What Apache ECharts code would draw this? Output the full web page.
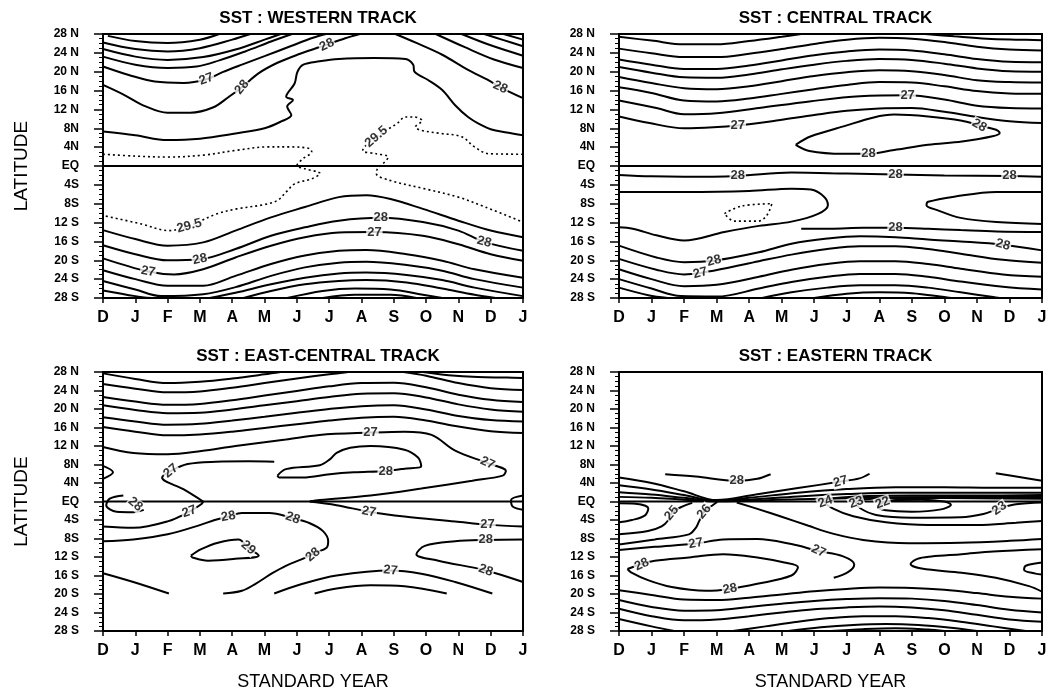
<!DOCTYPE html>
<html><head><meta charset="utf-8">
<script src="https://cdn.jsdelivr.net/npm/echarts@6/dist/echarts.min.js"></script>
<style>html,body{margin:0;padding:0;background:#fff}#c{width:1051px;height:692px}</style>
</head><body><div id="c"></div>
<script>
const months = ['D','J','F','M','A','M','J','J','A','S','O','N','D','J'];
const latTicks = ['28 S','24 S','20 S','16 S','12 S','8S','4S','EQ','4N','8N','12 N','16 N','20 N','24 N','28 N'];
const titles = ['SST : WESTERN TRACK','SST : CENTRAL TRACK','SST : EAST-CENTRAL TRACK','SST : EASTERN TRACK'];
const equator = [[0,0],[13,0]];

// ---------- WESTERN TRACK ----------
const westernSolid = [
 [[0.15,27.6],[1,26.5],[2,26.1],[3,26.8],[3.6,28]],
 [[0,26.2],[1,24.8],[2,24.3],[3,25],[4,26.8],[4.56,28]],
 [[0,24.8],[1,23.2],[2,22.5],[3.1,23.1],[4.1,24.7],[5,26.8],[5.5,28]],
 [[0,23.2],[1,21.5],[2,20.8],[2.9,21.1],[3.6,22.4],[4.4,24.3],[5.2,26.4],[5.85,28]],
 [[0,21.1],[0.8,19.3],[1.6,17.9],[2.5,17.6],[3.2,18.4],[3.7,19.9],[4.3,21.5],[5.0,23.3],[5.8,25.4],[6.5,27.2],[6.9,28]],
 [[0,17.2],[0.65,15.1],[1.3,12.7],[2.0,11.3],[2.7,11.3],[3.4,12.4],[3.9,14.7],[4.3,16.7],[4.8,19.6],[5.4,21.9],[6.1,23.8],[6.9,25.7],[7.5,27.1],[7.95,28]],
 [[0,7.3],[1,6.5],[2,5.5],[3,5.8],[4.1,6.9],[5,8.0],[5.5,9.4],[5.83,10.8],[5.7,12.6],[5.88,14],[5.67,14.7],[5.93,17.5],[6.02,20],[6.2,21.5],[6.7,22.2],[7.3,22.7],[8.4,22.9],[9.36,22.7],[9.6,21.5],[9.64,20],[10.05,18.3],[10.5,16.1],[10.9,12.9],[11.3,10.4],[11.7,8.7],[12,7.8],[12.5,7.1],[13,6.5]],
 [[9.05,28],[9.7,26.1],[10.5,23.6],[11.3,20.4],[11.9,18.3],[12.3,16.7],[13,14.4]],
 [[10.3,28],[11.2,25.2],[12.1,22.6],[13,20.8]],
 [[11.1,28],[12,25.6],[13,23.4]],
 [[11.8,28],[12.4,26.7],[13,25.4]],
 [[12.4,28],[13,26.8]],
 [[0,-13.6],[1,-15.5],[2,-16.9],[3.1,-16.2],[4.1,-13.7],[5.2,-10.9],[6.25,-8.7],[7.3,-6.6],[8.15,-6.2],[8.9,-7],[9.9,-9.1],[11,-11.6],[12,-13.7],[13,-15.1]],
 [[0,-16.8],[1,-18.7],[2,-20],[3,-19.8],[4.1,-17.6],[5.2,-14.8],[6.25,-13],[7.3,-11.6],[8.6,-11],[9.9,-11.9],[11,-13.7],[11.8,-16.1],[13,-18]],
 [[0,-19.6],[1.4,-22.4],[2.2,-23],[3.1,-21.9],[4.1,-19.4],[5.2,-16.9],[6.25,-15.1],[7.3,-14.1],[8.4,-14],[9.9,-14.8],[11,-16.6],[12,-18.7],[13,-20.1]],
 [[0,-22.1],[1,-24],[2,-25.4],[3.1,-25.4],[4.1,-23.3],[5.2,-20.8],[6.25,-19],[7.3,-18],[8.15,-17.8],[9.4,-18.7],[10.5,-20.1],[11.5,-21.9],[13,-23.7]],
 [[0,-24.4],[1,-26.2],[1.8,-27.6],[3.1,-27.2],[4.1,-25.7],[5.2,-23.3],[6.25,-21.5],[7.3,-20.5],[8.15,-20.3],[9.4,-21],[10.5,-22.2],[11.5,-24],[13,-25.8]],
 [[0,-26.4],[1,-27.6],[1.5,-28]],
 [[3.3,-28],[4.1,-26.9],[5.2,-25.1],[6.25,-23.7],[7.3,-22.8],[8.15,-22.6],[9.4,-23.1],[10.5,-24.2],[11.5,-25.8],[13,-27.6]],
 [[4.35,-28],[5.2,-26.5],[6.25,-25.1],[7.3,-24.4],[8.15,-24.2],[9.4,-24.7],[10.5,-26],[11.5,-27.3],[12.15,-28]],
 [[5.7,-28],[6.8,-26.5],[7.8,-26],[8.9,-26.2],[9.9,-27.3],[10.5,-28]],
 [[6.8,-28],[7.8,-27.3],[8.9,-27.3],[9.7,-28]]
];
const westernDashed = [
 [[0,2.5],[1,2.1],[2,1.9],[3.1,2.3],[4.1,3.3],[5.1,4.05],[5.8,4.05],[6.4,3.7],[6.46,3.0],[6.2,1.6],[6.0,0.1],[6.25,-0.6],[6.72,-1.6],[6.46,-2.7],[5.93,-3.8],[5.67,-5.5],[5.4,-7.3],[4.98,-8.2],[4.14,-9.1],[3.5,-10.2],[2.67,-12.7],[2.03,-13.7],[1.19,-12.3],[0,-10.5]],
 [[13,2.5],[11.94,2.6],[11.5,4.05],[11.1,6.2],[10.46,6.9],[9.83,7.6],[9.67,8.3],[9.88,9.6],[9.62,10.4],[9.36,10.4],[9.1,9],[8.46,6.2],[8.04,3.3],[8.46,2.6],[8.83,1.9],[8.67,0.5],[8.5,-0.5],[8.46,-1.6],[8.88,-3.05],[9.94,-4.8],[11,-6.6],[11.83,-8.7],[13,-11.9]]
];
const westernLabels = [
 [3.2,18.4,'27',20],[4.3,16.7,'28',50],[6.93,25.7,'28',25],[12.3,16.7,'28',-25],
 [8.46,6.2,'29.5',40],[2.67,-12.7,'29.5',15],[8.6,-11,'28',0],[8.4,-14,'27',0],
 [11.8,-16.1,'28',-15],[3.0,-19.8,'28',12],[1.4,-22.4,'27',-10]
];

// ---------- CENTRAL TRACK ----------
const centralSolid = [
 [[0,27.4],[1,26.6],[2,25.8],[3,25.8],[4,26.5],[5,27.4],[5.6,28]],
 [[9.4,28],[10.3,27.5],[11.3,27.0],[12.2,26.8],[13,26.7]],
 [[0,24.9],[1,23.9],[2,23.1],[3,23.1],[4,23.8],[5,24.8],[6,25.9],[7,26.8],[8,27.2],[9,27.0],[10,26.3],[11,25.3],[12,24.7],[13,24.5]],
 [[0,22.6],[1,21.5],[2,20.6],[3,20.6],[4,21.3],[5,22.4],[6,23.5],[7,24.3],[8,24.7],[9,24.5],[10,23.7],[11,22.7],[12,22.1],[13,22.0]],
 [[0,21.0],[1,19.8],[2,18.8],[3,18.7],[4,19.4],[5,20.5],[6,21.5],[7,22.3],[8,22.7],[9,22.5],[10,21.7],[11,20.7],[12,20.1],[13,20.0]],
 [[0,18.9],[1,17.6],[2,16.5],[3,16.3],[4,16.9],[5,18],[6,19.1],[7,19.9],[8,20.3],[9,20.1],[10,19.3],[11,18.2],[12,17.8],[13,17.7]],
 [[0,16.7],[1,15.5],[2,13.9],[3,13.7],[4,14.3],[5,15.3],[6,16.3],[7,17.2],[8,17.8],[9,17.7],[10,16.9],[11,15.9],[12,15.4],[13,15.3]],
 [[0,13.9],[1.15,12.3],[2,11.0],[3,11.2],[4.3,12.3],[5.85,13.7],[7.4,14.8],[8.9,15.0],[10,14.1],[11,12.8],[12,12.3],[13,12.2]],
 [[0,10.5],[0.94,9.1],[2,8.0],[2.9,8.2],[3.65,8.6],[4.9,9.7],[6,10.8],[7,11.7],[8,12.2],[9,12.3],[10,11.5],[11,10.4],[12,9.5],[13,9.1]],
 [[5.43,4.5],[5.9,6.3],[6.9,8.4],[7.83,10.3],[8.46,10.9],[9.5,10.5],[10.54,9.6],[11.07,8.6],[11.59,7.7],[11.7,7.0],[11.48,6.3],[10.54,5.2],[9.5,4.5],[8.46,3.4],[7.67,2.6],[6.89,2.6],[5.85,3.2],[5.43,4.5]],
 [[0,-1.9],[1,-2.2],[2,-2.3],[3.65,-2.1],[5.3,-1.4],[7,-1.6],[8.5,-1.8],[10,-2.0],[12,-2.1],[13,-2.3]],
 [[0,-5.5],[2,-5.5],[4,-5.3],[5.3,-4.8],[5.9,-5.0],[6.3,-6.5],[6.42,-8.3],[6.1,-10.2],[5.3,-11.8],[4.3,-12.7],[3.24,-14.0],[2.0,-15.8],[1.15,-14.7],[0.42,-13.3],[0,-13]],
 [[5.6,-13.3],[6.5,-13.3],[7.5,-13.1],[8.5,-13.1],[9.5,-13.3],[10.5,-13.6],[11.6,-13.9],[13,-14]],
 [[13,-5.5],[11.6,-5.5],[10.3,-6.5],[9.5,-7.6],[9.45,-8.3],[9.8,-9.4],[10.5,-11.0],[11.6,-11.9],[13,-12.3]],
 [[0,-16.9],[1.15,-19.4],[2,-20.4],[2.9,-20.1],[4.3,-18.3],[5.3,-16.5],[6.4,-15.4],[7.4,-14.9],[8.5,-15.1],[9.5,-15.6],[10.5,-16],[11.8,-16.7],[13,-17.9]],
 [[0,-19.7],[1.15,-22],[2,-23],[2.5,-22.7],[3.2,-21.8],[4.3,-20.2],[5.3,-18.8],[6.4,-17.6],[7.4,-17],[8.5,-17],[9.5,-17.6],[10.5,-18.6],[11.8,-19.9],[13,-20.5]],
 [[0,-21.9],[1,-24],[2,-25.5],[3,-25.2],[4.3,-23.5],[5.3,-22],[6.4,-20.8],[7.4,-20.2],[8.5,-20.2],[9.5,-20.8],[10.5,-21.8],[11.8,-23],[13,-23.5]],
 [[0,-24],[1,-26],[1.9,-27.6],[3,-27.7],[4.3,-26],[5.3,-24.6],[6.4,-23.5],[7.4,-22.9],[8.5,-22.9],[9.5,-23.5],[10.5,-24.5],[11.8,-25.6],[13,-26.2]],
 [[0,-25.8],[0.9,-27.4],[1.5,-28]],
 [[4.4,-28],[5.3,-26.8],[6.4,-25.8],[7.4,-25.3],[8.5,-25.3],[9.5,-25.8],[10.5,-26.8],[11.5,-27.8],[11.7,-28]],
 [[6.0,-28],[7.0,-27.1],[8.0,-26.8],[9.0,-27],[10,-27.8],[10.2,-28]]
];
const centralDashed = [
 [[3.24,-10.1],[3.76,-8.5],[4.7,-8.0],[4.54,-10.5],[4.28,-11.7],[3.55,-11.7],[3.24,-10.1]]
];
const centralLabels = [
 [3.65,8.6,'27',0],[8.87,15,'27',0],[11.07,8.6,'28',-30],[7.67,2.6,'28',0],
 [3.65,-2.1,'28',0],[8.5,-1.8,'28',0],[12,-2.1,'28',0],[8.5,-13.1,'28',0],
 [11.8,-16.7,'28',-15],[2.92,-20.1,'28',15],[2.5,-22.7,'27',15]
];

// ---------- EAST-CENTRAL TRACK ----------
const eastCentralSolid = [
 [[0,27.7],[1,26.5],[2,25.6],[3,25.9],[4,26.6],[5,27.5],[5.5,28]],
 [[9.9,28],[10.7,27.3],[11.6,26.9],[12.5,26.8],[13,26.7]],
 [[0,25.4],[1,24.4],[2,23.6],[3,23.8],[4,24.6],[5,25.6],[6,26.6],[7,27.5],[7.6,28]],
 [[9.3,28],[10,27.2],[11,25.6],[12,24.5],[13,24.1]],
 [[0,22.6],[1,21.6],[2,20.9],[3,21.1],[4,21.9],[5,22.9],[6,23.9],[7,24.9],[8,25.6],[9,25.7],[10,24.7],[11,23.1],[12,22],[13,21.5]],
 [[0,20.8],[1,19.8],[2,19.1],[3,19.2],[4,19.9],[5,20.8],[6,21.7],[7,22.6],[8,23.3],[9,23.4],[10,22.5],[11,21],[12,19.9],[13,19.4]],
 [[0,18.2],[1,17.3],[2,16.6],[3,16.8],[4,17.5],[5,18.3],[6,19.2],[7,20],[8,20.6],[9,20.8],[10,19.9],[11,18.5],[12,17.6],[13,17.3]],
 [[0,16.1],[1,15.1],[2,14.3],[3,14.5],[4,15.1],[5,15.9],[6,16.7],[7,17.5],[8,18.1],[9,18.3],[10,17.5],[11,16.2],[12,15.2],[13,14.8]],
 [[0,11.8],[0.94,10.5],[2,10.2],[3.04,10.9],[4.1,12],[5.66,13.4],[6.7,14.4],[8.28,14.9],[9.33,15.1],[10.17,14.4],[10.9,11.0],[11.9,8.3],[12.47,6.6],[12.37,5.6],[11.43,4.5],[9.85,2.8],[8.28,1.3],[6.71,0.3],[6.4,0]],
 [[3.1,0],[2.5,2.6],[1.83,5.2],[2.1,6.6],[2.62,8.1],[3.5,8.6],[4.5,8.7],[5.3,8.6]],
 [[5.4,5.6],[5.66,7],[6.71,7.85],[7.02,9.1],[7.23,10.5],[7.65,11.6],[8.28,12],[9.33,11.2],[9.75,9.5],[9.85,7.7],[9.33,7.1],[8.75,6.6],[7.76,6.3],[7.02,5.9],[6.18,5.2],[5.45,5.2],[5.4,5.6]],
 [[0,7.7],[0.31,6.3],[0,4.9]],
 [[0.63,1.3],[0.21,0.6],[0.1,-0.8],[0.42,-2.2],[0.94,-2.3],[1.26,-1.8]],
 [[13,1.3],[12.63,0.3],[12.68,-1.1],[13,-1.8]],
 [[0,-5.4],[0.94,-5.7],[2,-4.3],[2.67,-2.2],[3.04,-0.6],[3.1,0]],
 [[6.4,0],[7.23,-0.8],[8.23,-2.2],[9.33,-3.25],[10.9,-4.3],[11.9,-5],[13,-5.4]],
 [[0,-8.6],[0.94,-8.2],[2,-7.1],[3.04,-5],[3.46,-4],[3.88,-3.25],[4.3,-2.5],[5.14,-2.5],[5.87,-3.6],[6.4,-4.7],[6.81,-6.4],[6.97,-8.6],[6.92,-10],[6.6,-11],[6.18,-12.4],[5.66,-13.9],[5.24,-15.5],[4.72,-17.8],[4.3,-19.3],[3.72,-19.9]],
 [[0,-15.5],[0.94,-17.4],[2.04,-19.9]],
 [[5.3,-19.9],[6.18,-17.8],[7.23,-16],[8.9,-14.9],[9.85,-15.6],[10.9,-17.4],[12.05,-19.9]],
 [[6.55,-19.9],[7.23,-18.8],[8.28,-18.1],[9.33,-18.3],[10.64,-19.9]],
 [[13,-8.2],[11.85,-8.3],[10.9,-8.6],[9.96,-9.6],[9.7,-11.4],[10.38,-12.8],[11.85,-14.9],[13,-17.4]],
 [[2.72,-11.7],[3.04,-10.3],[3.56,-8.9],[4.19,-8.2],[4.5,-10],[4.82,-11.7],[4.09,-12.4],[3.25,-12.8],[2.77,-12.1],[2.72,-11.7]]
];
const eastCentralLabels = [
 [8.28,14.9,'27',0],[11.9,8.3,'27',-25],[2.1,6.6,'27',40],[8.75,6.6,'28',0],
 [1.0,-0.6,'28',-40],[2.67,-2.2,'27',20],[8.23,-2.2,'27',-10],[11.9,-5,'27',0],
 [3.88,-3.25,'28',10],[5.87,-3.6,'28',-20],[6.5,-11.5,'28',40],[4.5,-10,'29',-40],
 [11.85,-8.3,'28',0],[11.85,-14.9,'28',-20],[8.9,-14.9,'27',-5]
];

// ---------- EASTERN TRACK ----------
const easternSolid = [
 [[0,5.2],[1,4.0],[2,2.2],[3.0,0.3],[4.2,1.5],[5.5,2.9],[6.81,4.3],[7.39,5.0],[7.7,6.0]],
 [[11.58,6.1],[12.3,5.3],[13,4.5]],
 [[1.42,5.9],[2.36,5.4],[3.62,4.5],[4.25,4.9],[4.66,5.9]],
 [[0,3.5],[1,2.6],[2,1.4],[3.0,0.15],[4,0.8],[5.5,1.9],[7,2.7],[8.5,3.1],[10,3.1],[11.5,3.0],[13,3.0]],
 [[0,2.0],[1,1.5],[2,0.8],[3,0.1],[4,0.4],[5.5,1.1],[7,1.6],[8.5,1.9],[10,1.9],[11.5,1.9],[13,1.9]],
 [[0,1.0],[1,0.8],[2,0.4],[3,0.05],[5.5,0.5],[8.5,0.9],[11.5,1.0],[13,1.0]],
 [[0,-0.4],[0.5,-0.5],[0.9,-1.5],[0.8,-3.0],[0.4,-4.0],[0,-4.5]],
 [[0,-7.1],[0.89,-6.4],[1.31,-5.4],[1.52,-4],[1.62,-2.5],[1.94,-1.1],[2.25,-0.3]],
 [[0,-9.3],[1.1,-8.2],[2.15,-7.1],[2.36,-5.7],[2.46,-4.3],[2.62,-2.2],[2.88,-0.8],[3.02,-0.1]],
 [[3.62,-0.2],[4.3,-1.7],[5,-3.3],[5.8,-5.2],[6.6,-7],[7.5,-8.3],[8.9,-9.0],[10.5,-8.9],[12,-8.5],[13,-8.1]],
 [[13,1.4],[11,1.3],[9,1.3],[7.3,1.1],[6.5,0.6],[6.34,-0.1],[6.6,-1.6],[7.2,-3.2],[8.2,-4.5],[9.5,-5.1],[11,-5.1],[12.2,-4.6],[13,-4.2]],
 [[13,0.6],[11,0.7],[9,0.8],[7.6,0.5],[7.29,-0.2],[7.4,-1.4],[7.9,-2.9],[9,-3.5],[10.5,-3.4],[11.2,-2.7],[11.69,-1.5],[12.2,-0.6],[13,-0.2]],
 [[8.1,-0.3],[8.5,0.3],[9.3,0.4],[10.0,0.0],[10.2,-0.7],[9.9,-1.7],[9,-2.2],[8.2,-1.9],[7.95,-1.2],[8.1,-0.3]],
 [[0,-10.5],[1.1,-9.8],[2.36,-9.1],[3.2,-8.2],[4.25,-8.1],[5.3,-9.2],[6.13,-10.7],[6.87,-11.8],[7.23,-13.6],[7.05,-15.2],[6.6,-16.5]],
 [[0.26,-14.6],[0.68,-13.5],[1.1,-12.8],[2.15,-12.1],[3.2,-11.4],[4.25,-12.1],[5.08,-13.2],[5.5,-14.2],[5.3,-16],[4.25,-17.8],[3.41,-18.9],[2.67,-19.3],[1.62,-18.5],[0.89,-17],[0.37,-15.3],[0.26,-14.6]],
 [[13,-10.3],[11.5,-10.8],[10.53,-11.4],[9.6,-11.9],[9.17,-12.4],[8.96,-13.5],[9.3,-14.5],[10.53,-15.4],[11.58,-16.5],[12.6,-18.3],[13,-19.5]],
 [[13,-13.2],[12.5,-13.9],[12.45,-14.8],[12.8,-15.6],[13,-15.8]],
 [[0,-19.2],[1,-20.2],[2,-21.2],[3,-21.3],[4,-20.8],[5,-20.1],[6,-19.4],[7,-18.9],[8,-18.6],[9,-18.7],[10,-19.1],[11,-19.8],[12,-20.6],[13,-21]],
 [[0,-21.3],[1,-22.8],[2,-23.6],[3,-23.5],[4,-22.8],[5,-22.1],[6,-21.5],[7,-21.1],[8,-20.9],[9,-21],[10,-21.5],[11,-22.4],[12,-23.4],[13,-24]],
 [[0,-23.2],[1,-24.8],[2,-25.7],[3,-25.5],[4,-24.8],[5,-24],[6,-23.3],[7,-22.9],[8,-22.7],[9,-22.9],[10,-23.5],[11,-24.5],[12,-25.5],[13,-26]],
 [[0,-25.4],[1,-27],[1.7,-28]],
 [[3.5,-28],[4.5,-27],[5.5,-26],[6.5,-25.2],[7.5,-24.8],[8.5,-24.8],[9.5,-25.2],[10.5,-26],[11.5,-27],[12.5,-28]],
 [[5.2,-28],[6.2,-27.2],[7.2,-26.7],[8.2,-26.5],[9.2,-26.7],[10.2,-27.3],[11,-28]],
 [[6.5,-28],[7.5,-27.6],[8.5,-27.4],[9.5,-27.7],[10,-28]]
];
const easternLabels = [
 [3.62,4.5,'28',0],[6.81,4.3,'27',15],[6.34,-0.1,'24',20],[7.29,-0.2,'23',20],[8.1,-0.3,'22',20],
 [11.69,-1.5,'23',35],[1.62,-2.5,'25',50],[2.62,-2.2,'26',50],[2.36,-9.1,'27',10],
 [6.13,-10.7,'27',-25],[0.7,-13.6,'28',25],[3.41,-18.9,'28',10]
];

const panelSolid = [westernSolid, centralSolid, eastCentralSolid, easternSolid];
const panelDashed = [westernDashed, centralDashed, [], []];
const panelLabels = [westernLabels, centralLabels, eastCentralLabels, easternLabels];

// ---------- layout ----------
const FONT = '"Liberation Sans", Arial, Helvetica, sans-serif';
const grids = [
 {left:103, top:34, width:420, height:264},
 {left:619, top:34, width:423, height:264},
 {left:103, top:372, width:420, height:264},
 {left:619, top:372, width:423, height:264}
];
const option = {
 animation:false,
 backgroundColor:'#fff',
 title: titles.map((t,i)=>({text:t, left: grids[i].left + grids[i].width/2, top: grids[i].top - 29, textAlign:'center',
   textStyle:{fontFamily:FONT, fontSize:17, fontWeight:'bold', color:'#000'}})),
 grid: grids.map(g=>Object.assign({show:true, borderColor:'#000', borderWidth:2, containLabel:false}, g)),
 xAxis: grids.map((g,i)=>({type:'value', gridIndex:i, min:0, max:13, interval:1,
   axisLine:{onZero:false, lineStyle:{color:'#000', width:2}},
   axisTick:{length:5, lineStyle:{color:'#000', width:1.5}},
   axisLabel:{formatter:v=>months[v] ?? '', color:'#000', fontFamily:FONT, fontSize:16, fontWeight:'bold', margin:12},
   splitLine:{show:false},
   name: i>=2 ? 'STANDARD YEAR' : '', nameLocation:'middle', nameGap:42,
   nameTextStyle:{fontFamily:FONT, fontSize:18, color:'#000'}})),
 yAxis: grids.map((g,i)=>({type:'value', gridIndex:i, min:-28, max:28, interval:4,
   axisLine:{onZero:false, lineStyle:{color:'#000', width:2}},
   axisTick:{length:9, lineStyle:{color:'#000', width:1.5}},
   minorTick:{show:true, splitNumber:4, length:4, lineStyle:{color:'#000', width:1}},
   axisLabel:{formatter:v=>latTicks[Math.round((v+28)/4)] ?? '', color:'#000', fontFamily:FONT, fontSize:12, fontWeight:'bold', margin:24},
   splitLine:{show:false},
   name: (i%2===0) ? 'LATITUDE' : '', nameLocation:'middle', nameGap:72, nameRotate:90,
   nameTextStyle:{fontFamily:FONT, fontSize:19, color:'#000'}})),
 series: []
};
for (let i=0;i<4;i++){
  option.series.push({type:'line', xAxisIndex:i, yAxisIndex:i, data:equator, symbol:'none', silent:true,
     lineStyle:{color:'#000', width:1.8}, z:3});
  panelSolid[i].forEach(pts=>option.series.push({type:'line', xAxisIndex:i, yAxisIndex:i, data:pts, smooth:0.35,
     symbol:'none', silent:true, clip:true, lineStyle:{color:'#000', width:2}, z:2}));
  panelDashed[i].forEach(pts=>option.series.push({type:'line', xAxisIndex:i, yAxisIndex:i, data:pts, smooth:0.35,
     symbol:'none', silent:true, clip:true, lineStyle:{color:'#000', width:1.6, type:[2,3]}, z:2}));
  option.series.push({type:'scatter', xAxisIndex:i, yAxisIndex:i, symbolSize:2, silent:true, z:6,
     itemStyle:{color:'rgba(255,255,255,0)'},
     data: panelLabels[i].map(l=>({value:[l[0],l[1]], name:l[2], label:{rotate:l[3]}})),
     label:{show:true, position:'inside', formatter:'{b}', color:'#000', fontFamily:FONT, fontSize:13, fontWeight:'bold',
       backgroundColor:'#fff', padding:[0,1]}});
}
const chart = echarts.init(document.getElementById('c'), null, {renderer:'canvas'});
chart.setOption(option);
</script></body></html>
